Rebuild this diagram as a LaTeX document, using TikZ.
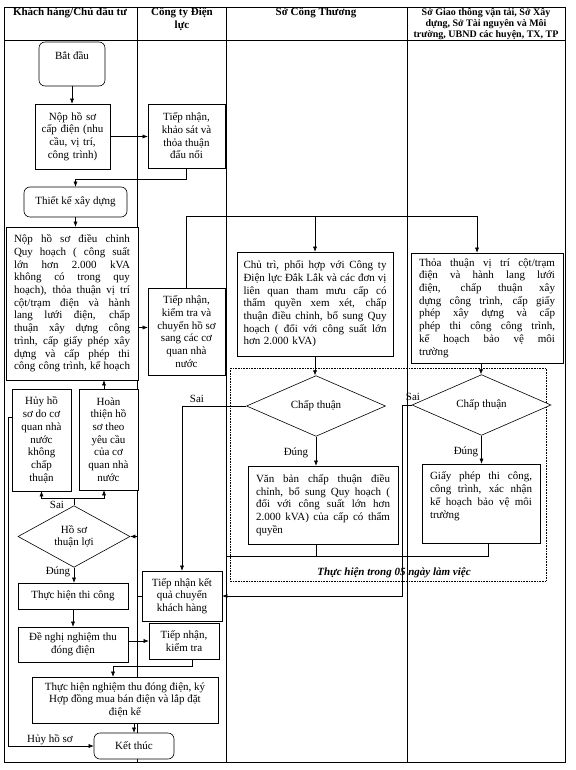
\documentclass[tikz,border=0pt]{standalone}
\usepackage{fontspec}
\setmainfont{Liberation Serif}
\usetikzlibrary{arrows.meta,shapes.geometric}
\newcommand{\jl}[1]{\leavevmode\hbox to \hsize{\spaceskip=0.25em plus 1em minus 0.05em\relax #1}}
\newcommand{\dpth}[1]{\rule[-#1]{0pt}{0pt}}
\begin{document}
\begin{tikzpicture}[x=1pt,y=-1pt,
  font=\fontsize{11}{12.7}\selectfont,
  frame/.style={line width=0.6pt},
  box/.style={draw, line width=0.6pt, fill=white, align=center, inner sep=1pt},
  rbox/.style={box, rounded corners=6pt},
  dia/.style={draw, diamond, line width=0.6pt, fill=white, inner sep=0pt, align=center},
  arr/.style={line width=0.5pt, -{Latex[length=5pt,width=4pt]}},
  con/.style={line width=0.5pt},
  lbl/.style={inner sep=1pt},
  hd/.style={font=\fontsize{11}{13}\selectfont\bfseries, align=center}
]
\useasboundingbox (0,0) rectangle (575,770);
% table frame
\draw[frame] (4,7) rectangle (565,762);
\draw[frame] (4,40) -- (565,40);
\draw[frame] (137,7) -- (137,762);
\draw[frame] (226,7) -- (226,762);
\draw[frame] (407,7) -- (407,762);
% headers
\node[hd] (h1) at (70,13) {Khách hàng/Chủ đầu tư};
\node[hd] (h2) at (182,19) {Công ty Điện\\lực};
\node[hd] (h3) at (316,13) {Sở Công Thương};
\node[hd, font=\fontsize{10}{11}\selectfont\bfseries] (h4) at (486,24) {Sở Giao thông vận tải, Sở Xây\\dựng, Sở Tài nguyên và Môi\\trường, UBND các huyện, TX, TP};
% dotted area
\draw[densely dotted, line width=0.6pt] (230,368) rectangle (546,581);
\node[font=\fontsize{11}{13}\selectfont\bfseries\itshape] (t05) at (394,573) {Thực hiện trong 05 ngày làm việc};
% column 1
\node[rbox, minimum width=66, minimum height=44] (start) at (72,64) {Bắt đầu\dpth{16pt}};
\node[box, minimum width=75, minimum height=65, text width=70] (nop) at (72.5,136.5) {Nộp hồ sơ\\cấp điện (nhu\\cầu, vị trí,\\công trình)};
\node[rbox, minimum width=103, minimum height=30] (tk) at (75.5,202) {Thiết kế xây dựng};
\node[box, minimum width=132, minimum height=153, text width=116, align=left] (dc) at (72,303.5) {\jl{Nộp hồ sơ điều chỉnh}\\\jl{Quy hoạch ( công suất}\\\jl{lớn hơn 2.000 kVA}\\\jl{không có trong quy}\\\jl{hoạch), thỏa thuận vị trí}\\\jl{cột/trạm điện và hành}\\\jl{lang lưới điện, chấp}\\\jl{thuận xây dựng công}\\\jl{trình, cấp giấy phép xây}\\\jl{dựng và cấp phép thi}\\\jl{công công trình, kế hoạch}};
\node[box, minimum width=59, minimum height=102] (huy) at (41.5,440) {Hủy hồ\\sơ do cơ\\quan nhà\\nước\\không\\chấp\\thuận};
\node[box, minimum width=59, minimum height=101] (ht) at (108.5,439.5) {Hoàn\\thiện hồ\\sơ theo\\yêu cầu\\của cơ\\quan nhà\\nước};
\node[dia, minimum width=112, minimum height=59] (hs) at (74,536.5) {Hồ sơ\\thuận lợi};
\node[box, minimum width=110, minimum height=26] (tc) at (73,596) {Thực hiện thi công};
\node[box, minimum width=110, minimum height=35] (dn) at (73,644.5) {Đề nghị nghiệm thu\\đóng điện};
\node[box, minimum width=186, minimum height=46] (nt) at (125,700) {Thực hiện nghiệm thu đóng điện, ký\\Hợp đồng mua bán điện và lắp đặt\\điện kế};
\node[rbox, minimum width=80, minimum height=26] (kt) at (134,746) {Kết thúc};
% column 2
\node[box, minimum width=77, minimum height=64] (tn1) at (186.5,136) {Tiếp nhận,\\khảo sát và\\thỏa thuận\\đấu nối};
\node[box, minimum width=77, minimum height=87] (tn2) at (186.5,331.5) {Tiếp nhận,\\kiểm tra và\\chuyển hồ sơ\\sang các cơ\\quan nhà\\nước};
\node[box, minimum width=80, minimum height=50] (tn3) at (182,596) {Tiếp nhận kết\\quả chuyển\\khách hàng};
\node[box, minimum width=70, minimum height=36] (tn4) at (184,641) {Tiếp nhận,\\kiểm tra};
% column 3
\node[box, minimum width=156, minimum height=104, text width=143, align=left] (ct) at (315,304) {\jl{Chủ trì, phối hợp với Công ty}\\\jl{Điện lực Đắk Lắk và các đơn vị}\\\jl{liên quan tham mưu cấp có}\\\jl{thẩm quyền xem xét, chấp}\\\jl{thuận điều chỉnh, bổ sung Quy}\\\jl{hoạch ( đối với công suất lớn}\\hơn 2.000 kVA)};
\node[dia, minimum width=139, minimum height=42] (d1) at (316,406) {Chấp thuận};
\node[box, minimum width=150, minimum height=78, text width=134, align=left] (vb) at (323,505) {\jl{Văn bản chấp thuận điều}\\\jl{chỉnh, bổ sung Quy hoạch (}\\\jl{đối với công suất lớn hơn}\\\jl{2.000 kVA) của cấp có thẩm}\\quyền};
% column 4
\node[box, minimum width=152, minimum height=110, text width=136, align=left] (tt) at (487,308) {\jl{Thỏa thuận vị trí cột/trạm}\\\jl{điện và hành lang lưới}\\\jl{điện, chấp thuận xây}\\\jl{dựng công trình, cấp giấy}\\\jl{phép xây dựng và cấp}\\\jl{phép thi công công trình,}\\\jl{kế hoạch bảo vệ môi}\\trường};
\node[dia, minimum width=139, minimum height=41] (d2) at (481.5,405) {Chấp thuận};
\node[box, minimum width=118, minimum height=79, text width=102, align=left] (gp) at (481,503.5) {\jl{Giấy phép thi công,}\\\jl{công trình, xác nhận}\\\jl{kế hoạch bảo vệ môi}\\trường\dpth{17pt}};
% connectors
\draw[arr] (start.south) -- (start.south |- nop.north);
\draw[arr] (nop.east) -- (nop.east -| tn1.west);
\draw[arr] (tn1.south) -- ++(0,11) -| (tk.north);
\draw[arr] (tk.south) -- (tk.south |- dc.north);
\coordinate (a1) at ([yshift=4pt]tn2.west);
\draw[arr] (dc.east |- a1) -- (a1);
\coordinate (j1) at ([yshift=71pt]tn2.north);
\draw[arr] (tn2.north) -- (j1) -| ([xshift=-10pt]tt.north);
\draw[arr] (j1 -| ct.north) -- (ct.north);
\draw[arr] (ct.south) -- (ct.south |- d1.north);
\draw[arr] (d1.south) -- (d1.south |- vb.north);
\node[lbl] (lbd1) at (296,453) {Đúng};
\draw[arr] ([xshift=-6pt]tt.south) -- ([xshift=-6pt]tt.south |- d2.north);
\draw[arr] (d2.south) -- (d2.south |- gp.north);
\node[lbl] (lbd2) at (466,452) {Đúng};
\coordinate (jx) at (402,556);
\coordinate (jl) at (226,556);
\draw[arr] (d2.west) -- (d2.west -| jx) |- (tn3.east);
\draw[con] (d1.south |- vb.south) -- (d1.south |- jx);
\draw[con] (jl) -- (jx);
\draw[con] ([xshift=7pt]gp.south) |- (jx);
\node[lbl] (ls2) at (413,397) {Sai};
\draw[arr] (d1.west) -| (tn3.north);
\node[lbl] (ls1) at (197,399) {Sai};
\draw[arr] (tn3.west) -- ++(-4,0) |- (hs.east);
\draw[arr] (hs.south) -- (hs.south |- tc.north);
\node[lbl] (lbd0) at (58,572) {Đúng};
\draw[arr] (tc.south) -- (tc.south |- dn.north);
\draw[arr] (dn.east |- tn4.west) -- (tn4.west);
\draw[arr] ([xshift=8pt]tn4.south) -- ++(0,7) -| ([xshift=-12pt]nt.north);
\draw[arr] (kt.north |- nt.south) -- (kt.north);
\coordinate (sp) at ([yshift=7pt]hs.north);
\draw[con] (hs.north) -- (sp);
\draw[arr] (sp) -| (huy.south);
\draw[arr] (sp) -| ([xshift=-4.5pt]ht.south);
\node[lbl] (ls0) at (57,505) {Sai};
\draw[arr] ([xshift=-4.5pt]ht.north) -- ([xshift=-4.5pt]ht.north |- dc.south);
\draw[arr] ([yshift=23pt]huy.west) -- ++(-3,0) |- (kt.west);
\node[lbl, anchor=south] (lhuy) at (50,746) {Hủy hồ sơ};
\end{tikzpicture}
\end{document}
